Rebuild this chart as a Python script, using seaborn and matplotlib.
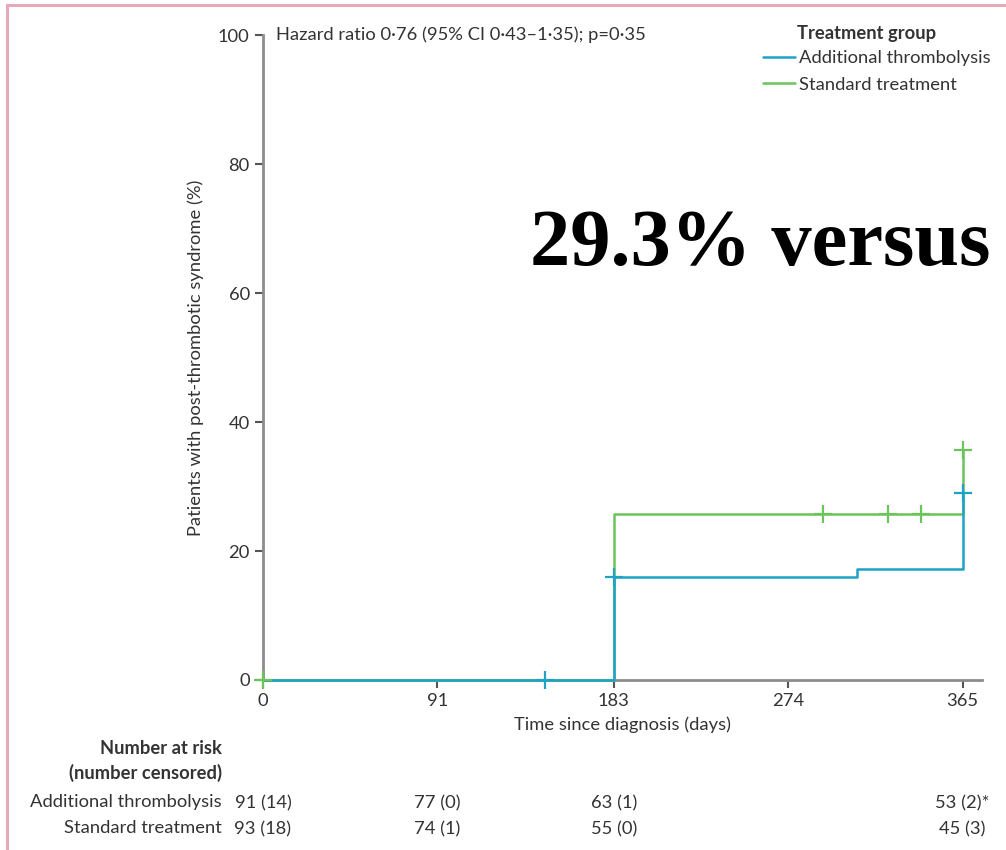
import matplotlib
matplotlib.use("Agg")
import matplotlib.pyplot as plt
import seaborn as sns
import pandas as pd
from matplotlib.lines import Line2D

# Curve data (cumulative incidence, %)
thromb_days = [0, 183, 310, 365]
thromb_pct = [0, 15.9, 17.2, 29.0]
std_days = [0, 183, 365]
std_pct = [0, 25.7, 35.7]

# Censoring marks
thromb_cens_days = [147, 183, 365]
thromb_cens_pct = [0, 15.9, 29.0]
std_cens_days = [0, 292, 326, 343, 365]
std_cens_pct = [0, 25.7, 25.7, 25.7, 35.7]

# Axes ticks
x_ticks = [0, 91, 183, 274, 365]
y_ticks = [0, 20, 40, 60, 80, 100]

# Number at risk table
risk_days = [0, 91, 183, 365]
risk_thromb = ["91 (14)", "77 (0)", "63 (1)", "53 (2)*"]
risk_std = ["93 (18)", "74 (1)", "55 (0)", "45 (3)"]

groups = ["Additional thrombolysis", "Standard treatment"]
colors = {"Additional thrombolysis": "#1ea3c6", "Standard treatment": "#6cc35c"}

sns.set_style("ticks")
plt.rcParams["font.family"] = ["Lato", "DejaVu Sans"]
fs = 13.2
plt.rcParams["font.size"] = fs
txt_col = "#333333"
axis_col = "#8c8c8c"

curves = pd.concat([
    pd.DataFrame({"day": thromb_days, "pct": thromb_pct, "group": groups[0]}),
    pd.DataFrame({"day": std_days, "pct": std_pct, "group": groups[1]}),
])

fig = plt.figure(figsize=(10.06, 8.5), dpi=100)
ax = fig.add_axes([0.2614, 0.2, 0.976 - 0.2614, 0.7588])

# green first so the blue sits on top of it
for g, z in [(groups[1], 3), (groups[0], 4)]:
    sub = curves[curves.group == g]
    sns.lineplot(data=sub, x="day", y="pct", ax=ax, color=colors[g],
                 drawstyle="steps-post", lw=1.8, estimator=None, zorder=z, clip_on=False)

ax.plot(std_cens_days, std_cens_pct, ls="none", marker="+", ms=13, mew=1.6,
        color=colors[groups[1]], zorder=5, clip_on=False)
ax.plot(thromb_cens_days, thromb_cens_pct, ls="none", marker="+", ms=13, mew=1.6,
        color=colors[groups[0]], zorder=5, clip_on=False)

ax.set_xlim(0, 375)
ax.set_ylim(0, 100)
ax.set_xticks(x_ticks)
ax.set_yticks(y_ticks)
for side in ["top", "right"]:
    ax.spines[side].set_visible(False)
for side in ["left", "bottom"]:
    ax.spines[side].set_color(axis_col)
    ax.spines[side].set_linewidth(2)
    ax.spines[side].set_zorder(2)
ax.tick_params(colors="#555555", labelcolor=txt_col, length=6, width=1.5, labelsize=fs)
ax.set_xlabel("Time since diagnosis (days)", color=txt_col, fontsize=fs, labelpad=5)
ax.set_ylabel("Patients with post-thrombotic syndrome (%)", color=txt_col, fontsize=fs, labelpad=10)

ax.text(7, 100, "Hazard ratio 0·76 (95% CI 0·43–1·35); p=0·35", color=txt_col,
        va="center", ha="left", fontsize=fs)

# legend
fig.text(797 / 1006, 1 - 33 / 850, "Treatment group", fontweight="bold", color=txt_col,
         va="center", ha="left", fontsize=fs)
handles = [Line2D([], [], color=colors[g], lw=1.8) for g in groups]
leg = fig.legend(handles, groups, loc="upper left", bbox_to_anchor=(757 / 1006, 1 - 45 / 850),
                 frameon=False, handlelength=1.75, handletextpad=0.25, labelspacing=0.55,
                 fontsize=fs, borderaxespad=0, borderpad=0.3)
for t in leg.get_texts():
    t.set_color(txt_col)

# number at risk
fig.text(222 / 1006, 1 - 748 / 850, "Number at risk", fontweight="bold", ha="right", va="center",
         color=txt_col, fontsize=fs)
fig.text(222 / 1006, 1 - 773 / 850, "(number censored)", fontweight="bold", ha="right", va="center",
         color=txt_col, fontsize=fs)
fig.text(222 / 1006, 1 - 802 / 850, groups[0], ha="right", va="center", color=txt_col, fontsize=fs)
fig.text(222 / 1006, 1 - 828 / 850, groups[1], ha="right", va="center", color=txt_col, fontsize=fs)
for d, a, b in zip(risk_days, risk_thromb, risk_std):
    ax.text(d, -19.1, a, ha="center", va="center", color=txt_col, fontsize=fs, clip_on=False)
    ax.text(d, -23.1, b, ha="center", va="center", color=txt_col, fontsize=fs, clip_on=False)

# overlay caption
fig.text(990 / 1006, 1 - 245 / 850, "29.3% versus", family="Liberation Serif", fontweight="bold",
         ha="right", va="center", color="black", fontsize=58)

# pink frame
frame = "#e6a9ba"
fig.add_artist(Line2D([7 / 1006, 7 / 1006], [0, 1 - 5 / 850], color=frame, lw=2.2,
                      transform=fig.transFigure))
fig.add_artist(Line2D([7 / 1006, 1], [1 - 5 / 850, 1 - 5 / 850], color=frame, lw=2.2,
                      transform=fig.transFigure))

fig.savefig("out.png", dpi=100, facecolor="white")
